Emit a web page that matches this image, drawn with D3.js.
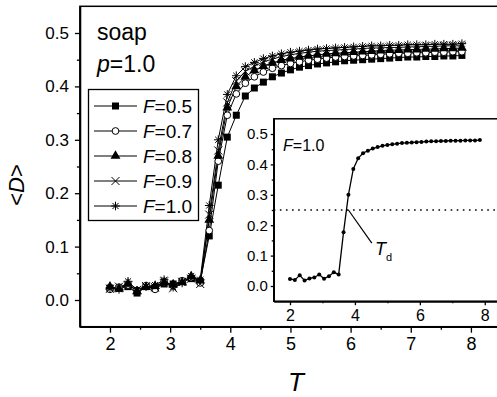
<!DOCTYPE html>
<html><head><meta charset="utf-8">
<script src="https://cdn.jsdelivr.net/npm/d3@7"></script>
<style>
body{margin:0;background:#fff;}
svg{display:block;font-family:"Liberation Sans",Arial,sans-serif;}
</style></head>
<body><svg id="c" width="497" height="397"></svg>
<script>
const T = [2.00,2.15,2.30,2.45,2.60,2.75,2.90,3.05,3.20,3.35,3.50,3.65,3.80,3.95,4.10,4.25,4.40,4.55,4.70,4.85,
           5.00,5.15,5.30,5.45,5.60,5.75,5.90,6.05,6.20,6.35,6.50,6.65,6.80,6.95,7.10,7.25,7.40,7.55,7.70,7.85];
const F05 = [0.022,0.022,0.025,0.013,0.025,0.022,0.030,0.030,0.035,0.040,0.035,
             0.120,0.215,0.305,0.346,0.382,0.397,0.408,0.418,0.425,0.431,0.436,0.439,0.442,0.444,0.446,0.448,0.449,0.450,0.451,0.452,0.453,0.454,0.455,0.455,0.456,0.456,0.457,0.457,0.458];
const F07 = [0.020,0.024,0.028,0.018,0.027,0.020,0.034,0.027,0.036,0.042,0.032,
             0.130,0.260,0.346,0.386,0.406,0.418,0.427,0.434,0.439,0.443,0.446,0.449,0.451,0.453,0.455,0.456,0.457,0.458,0.459,0.460,0.461,0.462,0.462,0.463,0.463,0.464,0.464,0.465,0.465];
const F08 = [0.025,0.021,0.030,0.016,0.024,0.026,0.033,0.029,0.033,0.044,0.036,
             0.150,0.270,0.360,0.400,0.418,0.430,0.438,0.444,0.449,0.452,0.455,0.457,0.459,0.461,0.462,0.463,0.464,0.465,0.466,0.467,0.468,0.468,0.469,0.469,0.470,0.470,0.471,0.471,0.472];
const F09 = [0.021,0.025,0.027,0.019,0.026,0.024,0.035,0.022,0.034,0.040,0.030,
             0.160,0.280,0.370,0.410,0.428,0.438,0.446,0.451,0.456,0.459,0.462,0.464,0.466,0.467,0.468,0.469,0.470,0.471,0.472,0.472,0.473,0.473,0.474,0.474,0.475,0.475,0.476,0.476,0.476];
const F10 = [0.023,0.020,0.035,0.018,0.025,0.028,0.038,0.024,0.032,0.045,0.038,
             0.177,0.300,0.385,0.420,0.437,0.445,0.452,0.457,0.461,0.464,0.466,0.468,0.470,0.471,0.472,0.473,0.474,0.475,0.476,0.476,0.477,0.477,0.478,0.478,0.478,0.479,0.479,0.479,0.480];
const seriesLabels = ["0.5","0.7","0.8","0.9","1.0"];
const xTicks = [2,3,4,5,6,7,8];
const xMinor = [2.5,3.5,4.5,5.5,6.5,7.5];
const yTicks = [0.0,0.1,0.2,0.3,0.4,0.5];
const yMinor = [0.05,0.15,0.25,0.35,0.45];
const insetXTicks = [2,4,6,8];
const insetXMinor = [3,5,7];
const insetYTicks = [0.0,0.1,0.2,0.3,0.4,0.5];
const insetYMinor = [0.05,0.15,0.25,0.35,0.45];
const Td = 0.25;
const TdLeader = [[3.8,0.25],[4.52,0.141]];

const svg = d3.select("#c");
const FONT = "'Liberation Sans',Arial,sans-serif";

// 8-armed asterisk symbol
const symbolStar8 = {
  draw(ctx, size){
    const r = Math.sqrt(size)*0.6;
    const d = r*Math.SQRT1_2;
    ctx.moveTo(-r,0); ctx.lineTo(r,0);
    ctx.moveTo(0,-r); ctx.lineTo(0,r);
    ctx.moveTo(-d,-d); ctx.lineTo(d,d);
    ctx.moveTo(-d,d); ctx.lineTo(d,-d);
  }
};

// main scales
const x = d3.scaleLinear().domain([1.5,8.5]).range([79.9,501]);
const y = d3.scaleLinear().domain([-0.05,0.55]).range([326.7,6.3]);

svg.append("rect").attr("x",x(1.5)).attr("y",y(0.55)).attr("width",x(8.5)-x(1.5)).attr("height",y(-0.05)-y(0.55))
  .attr("fill","none").attr("stroke","#000").attr("stroke-width",1.5);

function styleAxis(g,fs){
  g.selectAll("path").attr("stroke","#000").attr("stroke-width",1.5);
  g.selectAll("line").attr("stroke","#000").attr("stroke-width",1.3);
  g.selectAll("text").attr("font-family",FONT).attr("font-size",fs).attr("fill","#000");
}
const gx = svg.append("g").attr("transform",`translate(0,${y(-0.05)})`)
  .call(d3.axisBottom(x).tickValues(xTicks).tickFormat(d3.format("d")).tickSize(6).tickSizeOuter(0).tickPadding(5));
styleAxis(gx,18);
const gxm = svg.append("g").attr("transform",`translate(0,${y(-0.05)})`)
  .call(d3.axisBottom(x).tickValues(xMinor).tickFormat("").tickSize(3).tickSizeOuter(0));
styleAxis(gxm,18);
const gy = svg.append("g").attr("transform",`translate(${x(1.5)},0)`)
  .call(d3.axisLeft(y).tickValues(yTicks).tickFormat(d3.format(".1f")).tickSize(5).tickSizeOuter(0).tickPadding(6));
styleAxis(gy,17);
const gym = svg.append("g").attr("transform",`translate(${x(1.5)},0)`)
  .call(d3.axisLeft(y).tickValues(yMinor).tickFormat("").tickSize(3).tickSizeOuter(0));
styleAxis(gym,17);

const yl = svg.append("text").attr("transform","translate(24,185) rotate(-90)").attr("text-anchor","middle")
  .attr("font-family",FONT).attr("font-size",22);
yl.append("tspan").text("<");
yl.append("tspan").attr("font-style","italic").text("D");
yl.append("tspan").text(">");
svg.append("text").attr("x",296).attr("y",391).attr("text-anchor","middle").attr("font-family",FONT)
  .attr("font-size",26).attr("font-style","italic").text("T");

const series = [
  {v:F05, sym:d3.symbolSquare, size:49, fill:"#000", stroke:"none"},
  {v:F07, sym:d3.symbolCircle, size:36, fill:"#fff", stroke:"#000"},
  {v:F08, sym:d3.symbolTriangle, size:42, fill:"#000", stroke:"none"},
  {v:F09, sym:d3.symbolTimes, size:44, fill:"none", stroke:"#000"},
  {v:F10, sym:symbolStar8, size:52, fill:"none", stroke:"#000"}
];
const line = d3.line().x((d,i)=>x(T[i])).y(d=>y(d));
series.forEach(s=>{
  svg.append("path").attr("d",line(s.v)).attr("fill","none").attr("stroke","#000").attr("stroke-width",1);
});
series.forEach(s=>{
  svg.append("g").selectAll("path").data(s.v).join("path")
    .attr("transform",(d,i)=>`translate(${x(T[i])},${y(d)})`)
    .attr("d",d3.symbol(s.sym,s.size)())
    .attr("fill",s.fill).attr("stroke",s.stroke).attr("stroke-width",1);
});

svg.append("text").attr("x",97).attr("y",40).attr("font-family",FONT).attr("font-size",23).text("soap");
const pt = svg.append("text").attr("x",97).attr("y",72).attr("font-family",FONT).attr("font-size",23);
pt.append("tspan").attr("font-style","italic").text("p");
pt.append("tspan").text("=1.0");

svg.append("rect").attr("x",88.5).attr("y",89.5).attr("width",110).attr("height",131)
  .attr("fill","#fff").attr("stroke","#000").attr("stroke-width",1.3);
series.forEach((s,k)=>{
  const cy = 106 + k*25;
  svg.append("line").attr("x1",94).attr("x2",137).attr("y1",cy).attr("y2",cy).attr("stroke","#000").attr("stroke-width",1);
  svg.append("path").attr("transform",`translate(115.5,${cy})`).attr("d",d3.symbol(s.sym,s.size)())
    .attr("fill",s.fill).attr("stroke",s.stroke).attr("stroke-width",1);
  const t = svg.append("text").attr("x",143).attr("y",cy+7).attr("font-family",FONT).attr("font-size",19);
  t.append("tspan").attr("font-style","italic").text("F");
  t.append("tspan").text("="+seriesLabels[k]);
});

// inset
const ix = d3.scaleLinear().domain([1.5,8.5]).range([273.75,501]);
const iy = d3.scaleLinear().domain([-0.05,0.55]).range([301.2,118.8]);
svg.append("rect").attr("x",ix(1.5)).attr("y",iy(0.55)).attr("width",ix(8.5)-ix(1.5)).attr("height",iy(-0.05)-iy(0.55))
  .attr("fill","#fff").attr("stroke","#000").attr("stroke-width",1.5);
const igx = svg.append("g").attr("transform",`translate(0,${iy(-0.05)})`)
  .call(d3.axisBottom(ix).tickValues(insetXTicks).tickFormat(d3.format("d")).tickSize(4).tickSizeOuter(0).tickPadding(4));
styleAxis(igx,16);
const igxm = svg.append("g").attr("transform",`translate(0,${iy(-0.05)})`)
  .call(d3.axisBottom(ix).tickValues(insetXMinor).tickFormat("").tickSize(2).tickSizeOuter(0));
styleAxis(igxm,16);
const igy = svg.append("g").attr("transform",`translate(${ix(1.5)},0)`)
  .call(d3.axisLeft(iy).tickValues(insetYTicks).tickFormat(d3.format(".1f")).tickSize(3).tickSizeOuter(0).tickPadding(3));
styleAxis(igy,15);
const igym = svg.append("g").attr("transform",`translate(${ix(1.5)},0)`)
  .call(d3.axisLeft(iy).tickValues(insetYMinor).tickFormat("").tickSize(2).tickSizeOuter(0));
styleAxis(igym,15);

svg.append("line").attr("x1",ix(1.5)).attr("x2",ix(8.5)).attr("y1",iy(Td)).attr("y2",iy(Td))
  .attr("stroke","#000").attr("stroke-width",1.6).attr("stroke-dasharray","1.6,4.5");
const iline = d3.line().x((d,i)=>ix(T[i])).y(d=>iy(d));
svg.append("path").attr("d",iline(F10)).attr("fill","none").attr("stroke","#000").attr("stroke-width",1.3);
svg.append("g").selectAll("circle").data(F10).join("circle")
  .attr("cx",(d,i)=>ix(T[i])).attr("cy",d=>iy(d)).attr("r",2).attr("fill","#000");
svg.append("line").attr("x1",ix(TdLeader[0][0])).attr("y1",iy(TdLeader[0][1]))
  .attr("x2",ix(TdLeader[1][0])).attr("y2",iy(TdLeader[1][1])).attr("stroke","#000").attr("stroke-width",1.2);
const tdl = svg.append("text").attr("x",375).attr("y",255).attr("font-family",FONT).attr("font-size",18);
tdl.append("tspan").attr("font-style","italic").text("T");
tdl.append("tspan").attr("font-size",11).attr("dy",6).text("d");
const ft = svg.append("text").attr("x",283).attr("y",151).attr("font-family",FONT).attr("font-size",16);
ft.append("tspan").attr("font-style","italic").text("F");
ft.append("tspan").text("=1.0");
</script></body></html>
